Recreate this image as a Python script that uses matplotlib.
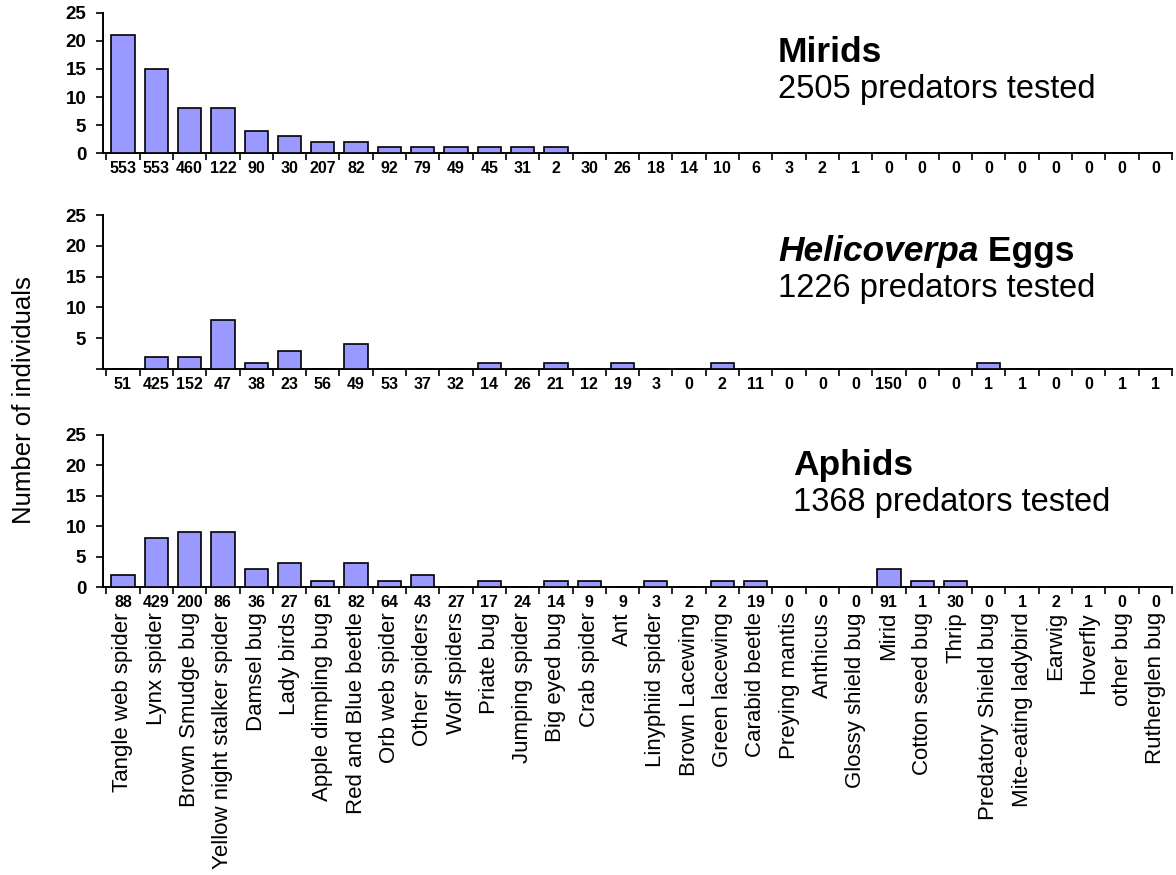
import numpy as np
import matplotlib
matplotlib.use("Agg")
import matplotlib.pyplot as plt

plt.rcParams['font.family'] = ['Liberation Sans', 'DejaVu Sans']

# predator groups (bottom axis labels)
names = ["Tangle web spider", "Lynx spider", "Brown Smudge bug", "Yellow night stalker spider",
         "Damsel bug", "Lady birds", "Apple dimpling bug", "Red and Blue beetle",
         "Orb web spider", "Other spiders", "Wolf spiders", "Priate bug",
         "Jumping spider", "Big eyed bug", "Crab spider", "Ant",
         "Linyphiid spider", "Brown Lacewing", "Green lacewing", "Carabid beetle",
         "Preying mantis", "Anthicus", "Glossy shield bug", "Mirid",
         "Cotton seed bug", "Thrip", "Predatory Shield bug", "Mite-eating ladybird",
         "Earwig", "Hoverfly", "other bug", "Rutherglen bug"]

# Mirids panel
mirid_tested = [553, 553, 460, 122, 90, 30, 207, 82, 92, 79, 49, 45, 31, 2, 30, 26,
                18, 14, 10, 6, 3, 2, 1, 0, 0, 0, 0, 0, 0, 0, 0, 0]
mirid_pos = [21, 15, 8, 8, 4, 3, 2, 2, 1, 1, 1, 1, 1, 1, 0, 0,
             0, 0, 0, 0, 0, 0, 0, 0, 0, 0, 0, 0, 0, 0, 0, 0]

# Helicoverpa eggs panel
egg_tested = [51, 425, 152, 47, 38, 23, 56, 49, 53, 37, 32, 14, 26, 21, 12, 19,
              3, 0, 2, 11, 0, 0, 0, 150, 0, 0, 1, 1, 0, 0, 1, 1]
egg_pos = [0, 2, 2, 8, 1, 3, 0, 4, 0, 0, 0, 1, 0, 1, 0, 1,
           0, 0, 1, 0, 0, 0, 0, 0, 0, 0, 1, 0, 0, 0, 0, 0]

# Aphids panel
aphid_tested = [88, 429, 200, 86, 36, 27, 61, 82, 64, 43, 27, 17, 24, 14, 9, 9,
                3, 2, 2, 19, 0, 0, 0, 91, 1, 30, 0, 1, 2, 1, 0, 0]
aphid_pos = [2, 8, 9, 9, 3, 4, 1, 4, 1, 2, 0, 1, 0, 1, 1, 0,
             1, 0, 1, 1, 0, 0, 0, 3, 1, 1, 0, 0, 0, 0, 0, 0]

yticks = [0, 5, 10, 15, 20, 25]

W, H = 1176, 875
fig = plt.figure(figsize=(W / 100, H / 100), dpi=100)

def px_axes(top, bottom):
    left, right = 103, 1172
    return fig.add_axes([left / W, 1 - bottom / H, (right - left) / W, (bottom - top) / H])

panels = [
    (px_axes(13, 153), mirid_pos, mirid_tested, True),
    (px_axes(215, 369), egg_pos, egg_tested, False),
    (px_axes(435, 587), aphid_pos, aphid_tested, True),
]

x = np.arange(len(names))
for ax, pos, tested, zero_label in panels:
    ax.bar(x, pos, width=0.7, color='#9999ff', edgecolor='black', linewidth=1.2, zorder=3)
    ax.set_xlim(-0.6, len(names) - 0.5)
    ax.set_ylim(0, 25)
    ax.spines['top'].set_visible(False)
    ax.spines['right'].set_visible(False)
    ax.spines['left'].set_linewidth(1.4)
    ax.spines['bottom'].set_linewidth(1.4)
    ax.set_yticks(yticks)
    ylabels = [str(v) for v in yticks]
    if not zero_label:
        ylabels[0] = ''
    ax.set_yticklabels(ylabels, fontsize=13.5, fontweight='bold')
    ax.tick_params(axis='y', direction='out', length=5, width=1.2, pad=7)
    ax.set_xticks(x)
    ax.set_xticklabels([str(v) for v in tested], fontsize=11.5, fontweight='bold')
    ax.set_xticks(np.arange(len(names) + 1) - 0.5, minor=True)
    ax.tick_params(axis='x', which='major', length=0, pad=6)
    ax.tick_params(axis='x', which='minor', direction='out', length=5, width=1.2)

# names under bottom panel
ax_b = panels[2][0]
for i, nm in enumerate(names):
    ax_b.annotate(nm, xy=(i, 0), xycoords=('data', 'axes fraction'),
                  xytext=(0, -18), textcoords='offset points',
                  rotation=90, ha='center', va='top', fontsize=16)

fig.text(24 / W, 1 - 400 / H, "Number of individuals", rotation=90,
         ha='center', va='center', fontsize=18.5)

# panel titles
fig.text(778 / W, 1 - 62 / H, "Mirids", fontsize=25.5, fontweight='bold', va='baseline')
fig.text(778 / W, 1 - 98 / H, "2505 predators tested", fontsize=23.5, va='baseline')

t1 = fig.text(778 / W, 1 - 261 / H, "Helicoverpa", fontsize=25.5, fontweight='bold',
              fontstyle='italic', va='baseline')
plt.annotate(" Eggs", xy=(1, 0), xycoords=t1, va='bottom', ha='left',
             fontsize=25.5, fontweight='bold', annotation_clip=False)
fig.text(778 / W, 1 - 297 / H, "1226 predators tested", fontsize=23.5, va='baseline')

fig.text(793 / W, 1 - 475 / H, "Aphids", fontsize=25.5, fontweight='bold', va='baseline')
fig.text(793 / W, 1 - 511 / H, "1368 predators tested", fontsize=23.5, va='baseline')

fig.savefig("out.png", dpi=100)
